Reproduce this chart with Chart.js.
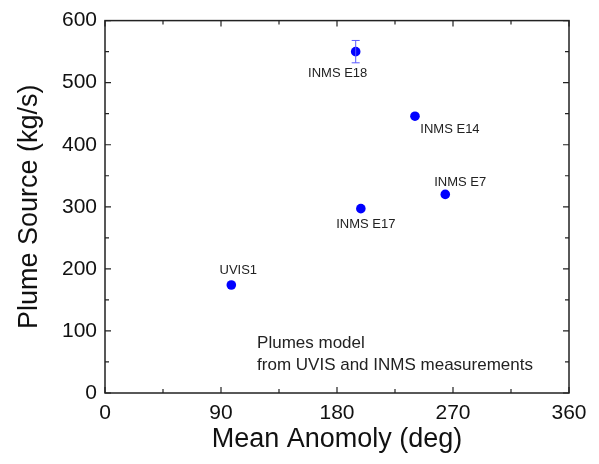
<!DOCTYPE html>
<html>
<head>
<meta charset="utf-8">
<script src="https://cdn.jsdelivr.net/npm/chart.js"></script>
<style>
  html, body { margin: 0; padding: 0; background: #fff; }
  #wrap { width: 599px; height: 464px; }
</style>
</head>
<body>
<div id="wrap"><canvas id="chart"></canvas></div>
<script>
  // values
  const names = ["UVIS1", "INMS E18", "INMS E14", "INMS E7", "INMS E17"];
  const anomaly = [98, 194.5, 240.5, 264, 198.5];
  const source = [174, 550, 446, 320, 297];
  const errors = [0, 18, 0, 0, 0];

  // label placement relative to each point (px)
  const labelDx = [7, -18, 35, 15, 5];
  const labelDy = [-15, 22, 13, -12, 16];

  const noteLines = ["Plumes model", "from UVIS and INMS measurements"];

  const FONT = "Arial, 'Liberation Sans', sans-serif";

  const extras = {
    id: "extras",
    afterDatasetsDraw(chart) {
      const { ctx, chartArea: a } = chart;
      const xs = chart.scales.x, ys = chart.scales.y;
      ctx.save();

      // error bars
      ctx.strokeStyle = "#5a5aff";
      ctx.lineWidth = 1;
      anomaly.forEach((xv, i) => {
        if (!errors[i]) return;
        const px = xs.getPixelForValue(xv);
        const top = ys.getPixelForValue(source[i] + errors[i]);
        const bot = ys.getPixelForValue(source[i] - errors[i]);
        ctx.beginPath();
        ctx.moveTo(px, top); ctx.lineTo(px, bot);
        ctx.moveTo(px - 4, top); ctx.lineTo(px + 4, top);
        ctx.moveTo(px - 4, bot); ctx.lineTo(px + 4, bot);
        ctx.stroke();
      });

      // point labels
      ctx.fillStyle = "#222";
      ctx.font = "13px " + FONT;
      ctx.textAlign = "center";
      ctx.textBaseline = "middle";
      names.forEach((n, i) => {
        const px = xs.getPixelForValue(anomaly[i]);
        const py = ys.getPixelForValue(source[i]);
        ctx.fillText(n, px + labelDx[i], py + labelDy[i]);
      });

      // note
      ctx.font = "17px " + FONT;
      ctx.textAlign = "left";
      const nx = xs.getPixelForValue(118);
      const ny = ys.getPixelForValue(80);
      noteLines.forEach((t, i) => ctx.fillText(t, nx, ny + i * 22));

      // frame
      ctx.strokeStyle = "#222";
      ctx.lineWidth = 1.5;
      ctx.strokeRect(a.left, a.top, a.right - a.left, a.bottom - a.top);

      // inward ticks on all four sides
      ctx.lineWidth = 1.2;
      ctx.beginPath();
      xs.ticks.forEach(t => {
        const px = xs.getPixelForValue(t.value);
        const len = t.value % 90 === 0 ? 6 : 4;
        ctx.moveTo(px, a.bottom); ctx.lineTo(px, a.bottom - len);
        ctx.moveTo(px, a.top); ctx.lineTo(px, a.top + len);
      });
      ys.ticks.forEach(t => {
        const py = ys.getPixelForValue(t.value);
        const len = t.value % 100 === 0 ? 6 : 4;
        ctx.moveTo(a.left, py); ctx.lineTo(a.left + len, py);
        ctx.moveTo(a.right, py); ctx.lineTo(a.right - len, py);
      });
      ctx.stroke();
      ctx.restore();
    }
  };

  new Chart(document.getElementById("chart"), {
    type: "scatter",
    data: {
      datasets: [{
        data: anomaly.map((x, i) => ({ x: x, y: source[i] })),
        backgroundColor: "#0000ff",
        borderWidth: 0,
        pointRadius: 4.8,
        pointHoverRadius: 4.8
      }]
    },
    options: {
      responsive: true,
      maintainAspectRatio: false,
      animation: false,
      layout: { padding: { left: 0, top: 20, right: 30, bottom: 0 } },
      plugins: { legend: { display: false }, tooltip: { enabled: false } },
      scales: {
        x: {
          type: "linear",
          min: 0, max: 360,
          afterFit: s => { s.height = 71; },
          ticks: {
            stepSize: 45,
            padding: 8,
            color: "#111",
            font: { family: FONT, size: 21 },
            callback: v => (v % 90 === 0 ? v : "")
          },
          grid: { display: false, drawTicks: false },
          border: { display: false },
          title: {
            display: true,
            text: "Mean Anomoly (deg)",
            color: "#111",
            font: { family: FONT, size: 27 },
            padding: { top: 0, bottom: 8 }
          }
        },
        y: {
          type: "linear",
          min: 0, max: 600,
          afterFit: s => { s.width = 105; },
          ticks: {
            stepSize: 50,
            padding: 8,
            color: "#111",
            font: { family: FONT, size: 21 },
            callback: v => (v % 100 === 0 ? v : "")
          },
          grid: { display: false, drawTicks: false },
          border: { display: false },
          title: {
            display: true,
            text: "Plume Source (kg/s)",
            color: "#111",
            font: { family: FONT, size: 27 },
            padding: { top: 13, bottom: 0 }
          }
        }
      }
    },
    plugins: [extras]
  });
</script>
</body>
</html>
